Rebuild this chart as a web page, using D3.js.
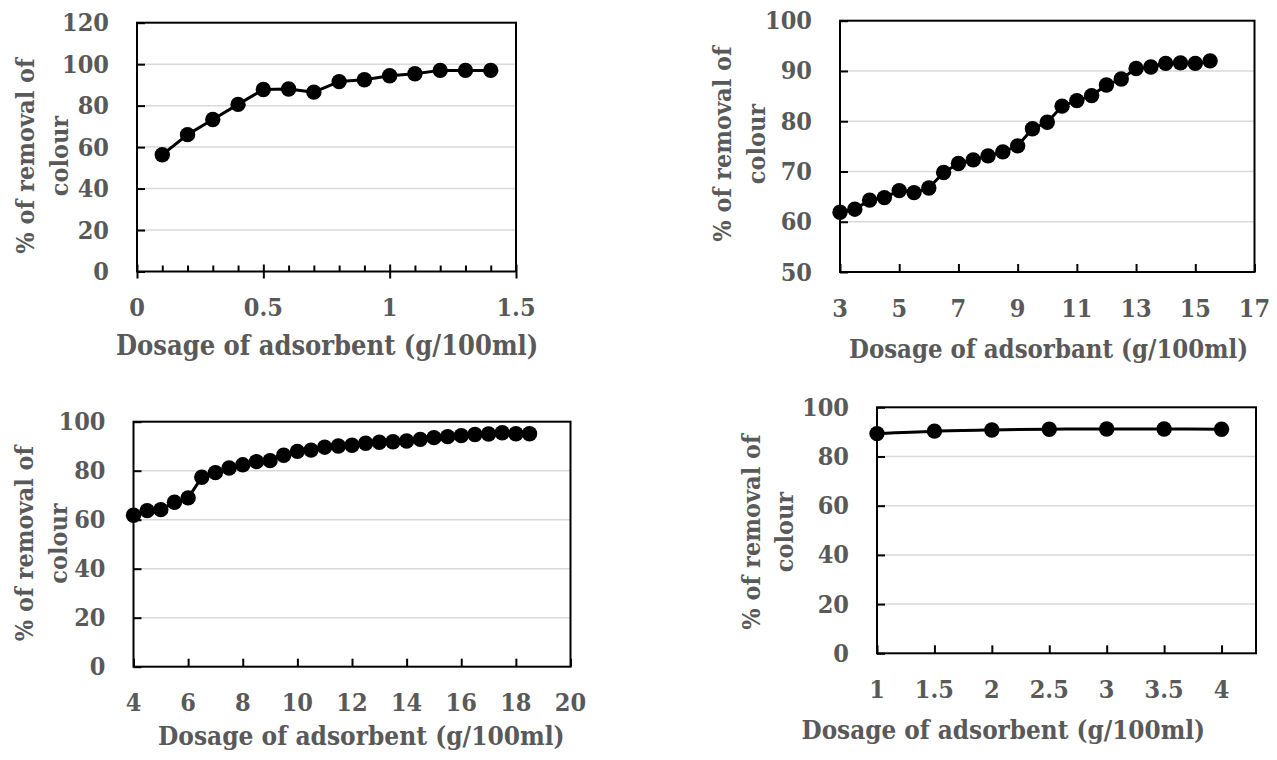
<!DOCTYPE html>
<html>
<head>
<meta charset="utf-8">
<script src="https://cdn.jsdelivr.net/npm/d3@7"></script>
<style>
  html, body { margin: 0; padding: 0; background: #ffffff; }
  svg { display: block; }
  text { font-family: "DejaVu Serif Condensed", "DejaVu Serif", serif; font-weight: bold; fill: #595959; }
</style>
</head>
<body>
<svg id="chart" width="1277" height="760"></svg>
<script>
// ---- Panel A: dosage 0.1 – 1.4 g/100ml ----
const doseA = [0.1, 0.2, 0.3, 0.4, 0.5, 0.6, 0.7, 0.8, 0.9, 1.0, 1.1, 1.2, 1.3, 1.4];
const removalA = [56.3, 66, 73.3, 80.6, 87.8, 88, 86.5, 91.6, 92.5, 94.4, 95.4, 97, 97, 97];
const xTicksA = [0, 0.5, 1, 1.5];
const xMinorA = [0.1, 0.2, 0.3, 0.4, 0.6, 0.7, 0.8, 0.9, 1.1, 1.2, 1.3, 1.4];
const yTicksA = [0, 20, 40, 60, 80, 100, 120];
const xTitleA = "Dosage of adsorbent (g/100ml)";

// ---- Panel B: dosage 3 – 15.5 g/100ml ----
const doseB = [3, 3.5, 4, 4.5, 5, 5.5, 6, 6.5, 7, 7.5, 8, 8.5, 9, 9.5, 10, 10.5, 11, 11.5, 12, 12.5, 13, 13.5, 14, 14.5, 15, 15.5];
const removalB = [61.9, 62.5, 64.3, 64.8, 66.2, 65.8, 66.7, 69.8, 71.6, 72.3, 73.1, 73.9, 75.1, 78.5, 79.8, 83, 84.1, 85.1, 87.2, 88.4, 90.5, 90.8, 91.5, 91.6, 91.5, 92];
const xTicksB = [3, 5, 7, 9, 11, 13, 15, 17];
const yTicksB = [50, 60, 70, 80, 90, 100];
const xTitleB = "Dosage of adsorbant (g/100ml)";

// ---- Panel C: dosage 4 – 18.5 g/100ml ----
const doseC = [4, 4.5, 5, 5.5, 6, 6.5, 7, 7.5, 8, 8.5, 9, 9.5, 10, 10.5, 11, 11.5, 12, 12.5, 13, 13.5, 14, 14.5, 15, 15.5, 16, 16.5, 17, 17.5, 18, 18.5];
const removalC = [61.8, 63.7, 64.1, 67.1, 68.9, 77.3, 79.2, 81.1, 82.4, 83.7, 84.1, 86.3, 87.9, 88.4, 89.6, 90.1, 90.4, 91.2, 91.6, 91.8, 92.1, 92.8, 93.5, 93.9, 94.3, 94.8, 95, 95.5, 95.1, 95.1];
const xTicksC = [4, 6, 8, 10, 12, 14, 16, 18, 20];
const yTicksC = [0, 20, 40, 60, 80, 100];
const xTitleC = "Dosage of adsorbent (g/100ml)";

// ---- Panel D: dosage 1 – 4 g/100ml ----
const doseD = [1, 1.5, 2, 2.5, 3, 3.5, 4];
const removalD = [89.3, 90.3, 90.8, 91.1, 91.2, 91.2, 91.1];
const xTicksD = [1, 1.5, 2, 2.5, 3, 3.5, 4];
const yTicksD = [0, 20, 40, 60, 80, 100];
const xTitleD = "Dosage of adsorbent (g/100ml)";

const yTitleLines = ["% of removal of", "colour"];

const svg = d3.select("#chart");
const FONT = 25;        // tick labels and y titles

function drawPanel(cfg) {
  const g = svg.append("g");
  const x = d3.scaleLinear().domain(cfg.xDomain).range([cfg.box.left, cfg.box.right]);
  const y = d3.scaleLinear().domain(cfg.yDomain).range([cfg.box.bottom, cfg.box.top]);
  const b = cfg.box;

  // horizontal gridlines
  g.append("g").selectAll("line")
    .data(cfg.yTicks.filter(v => v > cfg.yDomain[0] && v < cfg.yDomain[1]))
    .join("line")
    .attr("x1", b.left).attr("x2", b.right)
    .attr("y1", d => y(d)).attr("y2", d => y(d))
    .attr("stroke", "#d9d9d9").attr("stroke-width", 1.5);

  // y axis: ticks pointing into the plot
  const yAxis = d3.axisRight(y).tickValues(cfg.yTicks).tickSize(8).tickFormat("");
  const ya = g.append("g").attr("transform", `translate(${b.left},0)`).call(yAxis);
  ya.select(".domain").remove();
  ya.selectAll(".tick line").attr("stroke", "#000").attr("stroke-width", 2);

  // y tick labels
  g.append("g").selectAll("text")
    .data(cfg.yTicks).join("text")
    .attr("x", b.left - 28).attr("y", d => y(d))
    .attr("text-anchor", "end").attr("dominant-baseline", "central")
    .attr("font-size", FONT)
    .text(d => d);

  // x axis: ticks pointing up into the plot
  const xAxis = d3.axisTop(x).tickValues(cfg.xTicks).tickSize(8).tickFormat("");
  const xa = g.append("g").attr("transform", `translate(0,${b.bottom})`).call(xAxis);
  xa.select(".domain").remove();
  xa.selectAll(".tick line").attr("stroke", "#000").attr("stroke-width", 2);
  if (cfg.crossTicks) {
    xa.selectAll(".tick line").attr("y2", -7).attr("y1", 7);
  }
  if (cfg.xMinor) {
    const xm = g.append("g").attr("transform", `translate(0,${b.bottom})`)
      .call(d3.axisTop(x).tickValues(cfg.xMinor).tickSize(6).tickFormat(""));
    xm.select(".domain").remove();
    xm.selectAll(".tick line").attr("stroke", "#000").attr("stroke-width", 2);
  }

  // x tick labels
  g.append("g").selectAll("text")
    .data(cfg.xTicks).join("text")
    .attr("x", d => x(d)).attr("y", b.bottom + 36)
    .attr("text-anchor", "middle").attr("dominant-baseline", "central")
    .attr("font-size", FONT)
    .text(d => d);

  // plot frame
  g.append("rect")
    .attr("x", b.left).attr("y", b.top)
    .attr("width", b.right - b.left).attr("height", b.bottom - b.top)
    .attr("fill", "none").attr("stroke", "#000").attr("stroke-width", 2);

  // data line and markers
  const pts = cfg.xs.map((v, i) => [v, cfg.ys[i]]);
  const line = d3.line().x(d => x(d[0])).y(d => y(d[1]));
  if (cfg.smooth) line.curve(d3.curveCatmullRom.alpha(0.5));
  g.append("path").datum(pts)
    .attr("d", line).attr("fill", "none")
    .attr("stroke", "#000").attr("stroke-width", 3).attr("stroke-linejoin", "round");
  g.append("g").selectAll("circle")
    .data(pts).join("circle")
    .attr("cx", d => x(d[0])).attr("cy", d => y(d[1]))
    .attr("r", 7.7).attr("fill", "#000");

  // x axis title
  g.append("text")
    .attr("x", cfg.xTitlePos[0]).attr("y", cfg.xTitlePos[1])
    .attr("text-anchor", "start").attr("font-size", cfg.xTitleSize)
    .text(cfg.xTitle);

  // y axis title (two rotated lines)
  yTitleLines.forEach((t, i) => {
    g.append("text")
      .attr("transform", `translate(${cfg.yTitleX[i]},${cfg.yTitleY}) rotate(-90)`)
      .attr("text-anchor", "middle").attr("font-size", FONT)
      .text(t);
  });
}

drawPanel({
  xs: doseA, ys: removalA, xTicks: xTicksA, xMinor: xMinorA, yTicks: yTicksA, crossTicks: true,
  xDomain: [0, 1.5], yDomain: [0, 120],
  box: { left: 137, right: 516, top: 22.7, bottom: 271.5 },
  xTitle: xTitleA, xTitleSize: 27, xTitlePos: [116, 355], yTitleX: [33.5, 68], yTitleY: 156
});
drawPanel({
  xs: doseB, ys: removalB, xTicks: xTicksB, yTicks: yTicksB,
  xDomain: [3, 17], yDomain: [50, 100],
  box: { left: 840, right: 1254.5, top: 20.7, bottom: 272 },
  xTitle: xTitleB, xTitleSize: 25.5, xTitlePos: [849, 358], yTitleX: [731, 765], yTitleY: 144
});
drawPanel({
  xs: doseC, ys: removalC, xTicks: xTicksC, yTicks: yTicksC,
  xDomain: [4, 20], yDomain: [0, 100],
  box: { left: 133.5, right: 570.5, top: 421.7, bottom: 666.7 },
  xTitle: xTitleC, xTitleSize: 26, xTitlePos: [158, 745], yTitleX: [32.5, 67], yTitleY: 543.5
});
drawPanel({
  xs: doseD, ys: removalD, xTicks: xTicksD, yTicks: yTicksD, smooth: true,
  xDomain: [1, 4.3], yDomain: [0, 100],
  box: { left: 877, right: 1256, top: 407.3, bottom: 653.3 },
  xTitle: xTitleD, xTitleSize: 25.8, xTitlePos: [801.5, 739], yTitleX: [759.7, 793], yTitleY: 532
});
</script>
</body>
</html>
